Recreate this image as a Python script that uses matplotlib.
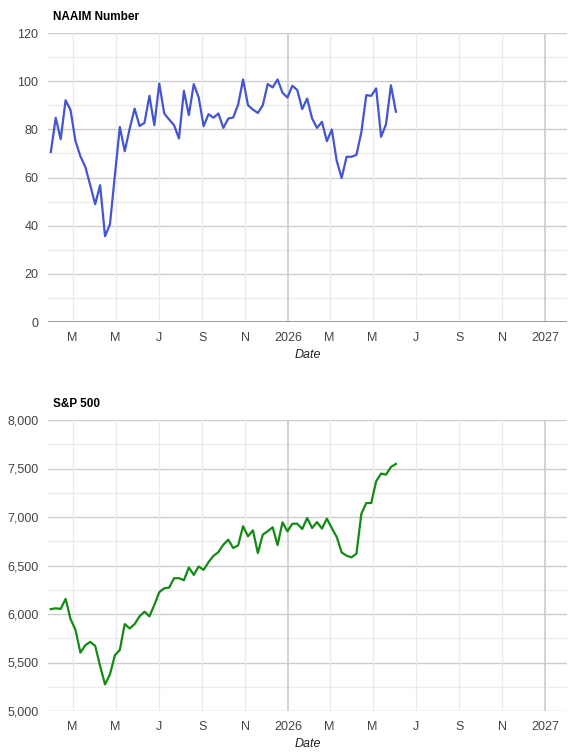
import datetime
import numpy as np
import matplotlib
matplotlib.use("Agg")
import matplotlib.pyplot as plt
import matplotlib.dates as mdates
from matplotlib.ticker import FuncFormatter, MultipleLocator

plt.rcParams['font.family'] = ['Arial', 'Liberation Sans', 'DejaVu Sans']

# weekly readings, first one on 2025-01-29
start = datetime.date(2025, 1, 29)

naaim = [70.6, 84.8, 75.9, 92.1, 88.0, 75.2, 68.8, 64.4, 56.8, 48.9, 56.8, 35.6,
         40.6, 61.0, 81.0, 70.9, 80.3, 88.6, 81.4, 82.7, 93.9, 81.7, 99.0, 86.6,
         84.1, 81.7, 76.2, 96.0, 85.9, 98.8, 93.2, 81.3, 86.3, 84.8, 86.6, 80.6,
         84.5, 84.9, 90.3, 100.7, 90.0, 88.2, 86.8, 90.0, 98.8, 97.4, 100.7, 95.2,
         93.2, 98.1, 96.3, 88.4, 92.8, 84.5, 80.6, 83.1, 75.1, 79.9, 66.9, 59.8,
         68.6, 68.6, 69.4, 78.9, 94.2, 93.9, 97.0, 76.9, 82.1, 98.3, 87.3]

spx = [6050, 6059, 6052, 6156, 5948, 5837, 5602, 5678, 5713, 5671, 5464, 5274,
       5378, 5575, 5630, 5896, 5851, 5896, 5976, 6024, 5976, 6093, 6225, 6265,
       6272, 6369, 6369, 6348, 6479, 6403, 6490, 6455, 6535, 6600, 6638, 6714,
       6766, 6680, 6707, 6905, 6801, 6863, 6628, 6818, 6853, 6894, 6710,
       6945, 6852, 6931, 6931, 6876, 6990, 6886, 6948, 6880, 6983, 6886, 6794,
       6635, 6601, 6584, 6622, 7034, 7144, 7144, 7368, 7447, 7437, 7516, 7547]

dates = [start + datetime.timedelta(weeks=i) for i in range(len(naaim))]

tick_dates = [datetime.date(2025, 3, 1), datetime.date(2025, 5, 1), datetime.date(2025, 7, 1),
              datetime.date(2025, 9, 1), datetime.date(2025, 11, 1), datetime.date(2026, 1, 1),
              datetime.date(2026, 3, 1), datetime.date(2026, 5, 1), datetime.date(2026, 7, 1),
              datetime.date(2026, 9, 1), datetime.date(2026, 11, 1), datetime.date(2027, 1, 1)]
tick_labels = ["M", "M", "J", "S", "N", "2026", "M", "M", "J", "S", "N", "2027"]

fig = plt.figure(figsize=(5.77, 7.53), dpi=100)
ax1 = fig.add_axes([48/577, 1-322/753, 519/577, 289/753])
ax2 = fig.add_axes([48/577, 1-711/753, 519/577, 291/753])


def style(ax, ymin, ymax, major, minor, fmt):
    ax.set_xlim(datetime.date(2025, 1, 25), datetime.date(2027, 2, 1))
    ax.set_ylim(ymin, ymax)
    for s in ax.spines.values():
        s.set_visible(False)
    for v in np.arange(ymin, ymax + 1, minor):
        if v % major:
            ax.axhline(v, color='#ececec', lw=1, zorder=0)
        else:
            ax.axhline(v, color='#cccccc', lw=1, zorder=0)
    for d, lab in zip(tick_dates, tick_labels):
        c = '#cccccc' if lab.isdigit() else '#ebebeb'
        ax.axvline(d, color=c, lw=1.2 if lab.isdigit() else 1, zorder=0)
    ax.set_xticks(tick_dates)
    ax.set_xticklabels(tick_labels)
    ax.yaxis.set_major_locator(MultipleLocator(major))
    ax.yaxis.set_major_formatter(FuncFormatter(fmt))
    ax.tick_params(length=0, labelsize=9, colors='#444444', pad=7)
    ax.set_xlabel("Date", fontsize=9, style='italic', color='#222222', labelpad=4)


style(ax1, 0, 120, 20, 10, lambda v, p: f"{v:.0f}")
ax1.axhline(0, color='#7f7f7f', lw=1.8, zorder=1)
ax1.plot(dates, naaim, color='#4355d1', lw=1.6, zorder=3)
fig.text(53/577, 1-17/753, "NAAIM Number", fontsize=8.5, fontweight='bold', va='center')

style(ax2, 5000, 8000, 500, 250, lambda v, p: f"{v:,.0f}")
ax2.plot(dates, spx, color='#138a13', lw=1.6, zorder=3)
fig.text(53/577, 1-404/753, "S&P 500", fontsize=8.5, fontweight='bold', va='center')

fig.savefig("out.png", dpi=100)
